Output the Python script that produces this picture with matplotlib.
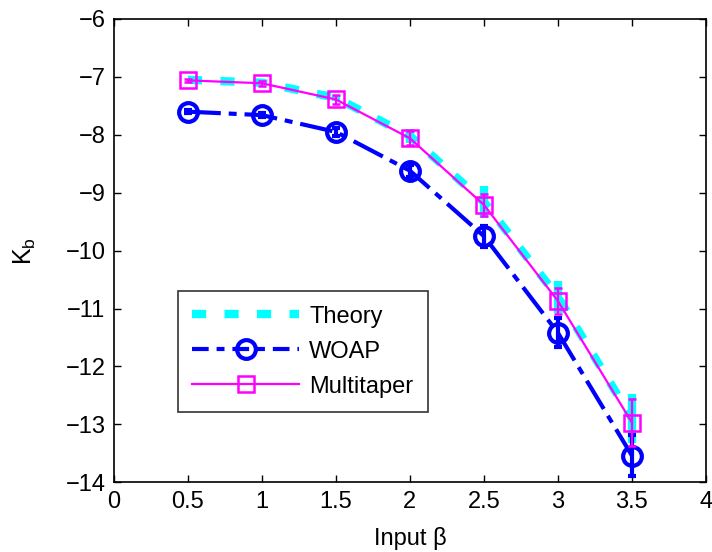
import matplotlib
matplotlib.use("Agg")
import matplotlib.pyplot as plt
from matplotlib.lines import Line2D
import numpy as np

beta = [0.5, 1.0, 1.5, 2.0, 2.5, 3.0, 3.5]
theory = [-7.05, -7.10, -7.36, -8.02, -9.16, -10.80, -12.90]
theory_err = [0.0, 0.0, 0.05, 0.12, 0.27, 0.28, 0.42]
woap = [-7.60, -7.66, -7.95, -8.62, -9.75, -11.42, -13.54]
woap_err = [0.03, 0.04, 0.07, 0.10, 0.18, 0.25, 0.35]
multitaper = [-7.06, -7.11, -7.39, -8.06, -9.21, -10.87, -12.97]
multitaper_err = [0.03, 0.04, 0.07, 0.12, 0.19, 0.22, 0.40]

plt.rcParams['font.family'] = ['Liberation Sans', 'DejaVu Sans']

fig = plt.figure(figsize=(7.12, 5.52), dpi=100)
ax = fig.add_axes([0.160, 0.1263, 0.8315, 0.8393])

c_th = '#00ffff'
c_wo = '#0000ff'
c_mt = '#ff00ff'

th_dash = (1.7, 2.2)
wo_dash = (7.9, 1.9, 1.9, 1.9)
wo_dash_leg = (4.0, 1.9, 1.9, 1.9)

eb1 = ax.errorbar(beta, theory, yerr=theory_err, color=c_th, lw=6,
                  elinewidth=6, capsize=0, zorder=2)
eb1.lines[0].set_dashes(th_dash)
eb2 = ax.errorbar(beta, woap, yerr=woap_err, color=c_wo, lw=3.0, elinewidth=3.0,
                  capsize=3, capthick=2, marker='o', markersize=13.5,
                  markerfacecolor='none', markeredgewidth=3.0, zorder=3)
eb2.lines[0].set_dashes(wo_dash)
eb3 = ax.errorbar(beta, multitaper, yerr=multitaper_err, color=c_mt, lw=1.6,
                  elinewidth=1.6, capsize=3, capthick=1.6, marker='s', markersize=11.5,
                  markerfacecolor='none', markeredgewidth=1.8, zorder=4)

ax.set_xlim(0, 4)
ax.set_ylim(-14, -6)
ax.set_xticks(np.arange(0, 4.01, 0.5))
ax.set_xticklabels(['0', '0.5', '1', '1.5', '2', '2.5', '3', '3.5', '4'])
ax.set_yticks(np.arange(-14, -5.9, 1))
ax.set_yticklabels(['\u2212%d' % v for v in range(14, 5, -1)])
ax.tick_params(direction='in', top=True, right=True, labelsize=17, length=5, width=1,
               pad=6)
for s in ax.spines.values():
    s.set_linewidth(1.2)

ax.set_xlabel('Input \u03b2', fontsize=17, labelpad=10)
ax.set_ylabel('K$_\\mathregular{b}$', fontsize=18, labelpad=20)

h1 = Line2D([], [], color=c_th, lw=6, dashes=th_dash)
h2 = Line2D([], [], color=c_wo, lw=3.0, dashes=wo_dash_leg, marker='o', markersize=13.5,
            markerfacecolor='none', markeredgewidth=3.0)
h3 = Line2D([], [], color=c_mt, lw=1.6, marker='s', markersize=11.5,
            markerfacecolor='none', markeredgewidth=1.8)

leg = ax.legend([h1, h2, h3], ['Theory', 'WOAP', 'Multitaper'],
                loc='upper left', bbox_to_anchor=(0.108, 0.413), borderaxespad=0,
                fontsize=17, handlelength=4.5, handletextpad=0.45, frameon=True,
                fancybox=False, edgecolor='black', borderpad=0.62, labelspacing=0.55,
                markerscale=1.0, numpoints=1)
leg.get_frame().set_linewidth(1.2)

fig.savefig('out.png', dpi=100)
